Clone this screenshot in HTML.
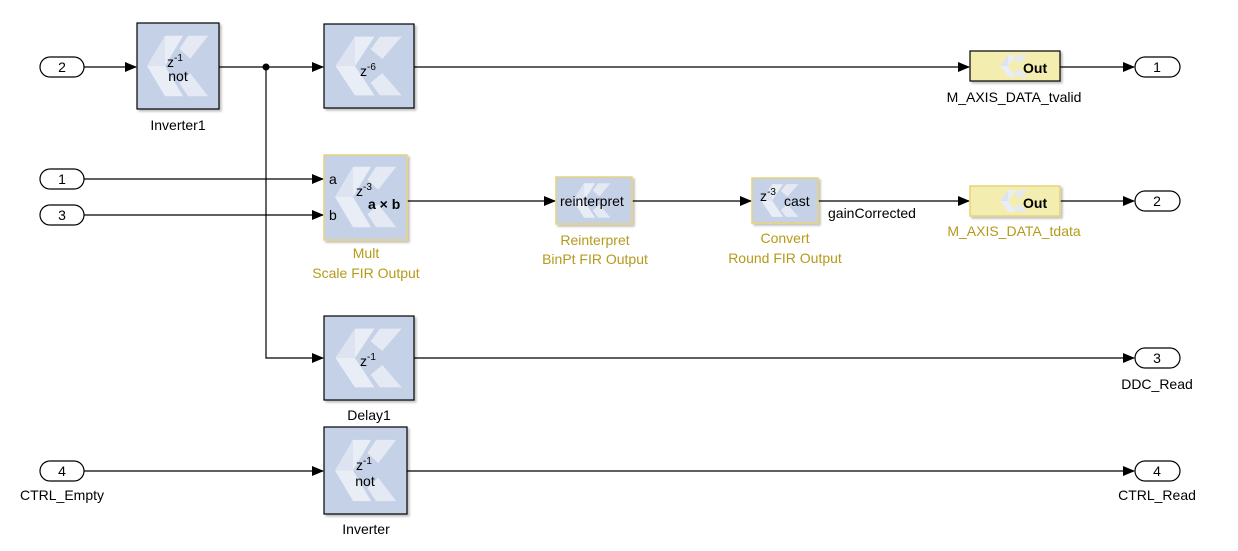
<!DOCTYPE html>
<html><head><meta charset="utf-8"><style>
html,body{margin:0;padding:0;background:#fff}
svg{display:block}
text{font-family:"Liberation Sans",sans-serif;font-size:14px}
</style></head><body>
<svg width="1238" height="551" viewBox="0 0 1238 551" xmlns="http://www.w3.org/2000/svg">
<defs>
<marker id="a" markerWidth="12" markerHeight="10" refX="11" refY="5" orient="auto" markerUnits="userSpaceOnUse"><path d="M0,0 L12,5 L0,10 Z" fill="#000"/></marker>
<symbol id="logo" viewBox="0 0 100 100" preserveAspectRatio="none">
<polygon points="32,8 57,8 32,50 57,92 32,92 7,50" fill="#e9edf6"/>
<polygon points="7,50 32,8 32,50" fill="#dde3f0"/>
<polygon points="64,8 92,8 67,40 52,26" fill="#e4e9f3"/>
<polygon points="52,74 67,60 92,92 64,92" fill="#e4e9f3"/>
</symbol>
<filter id="sh" x="-10%" y="-10%" width="130%" height="130%"><feDropShadow dx="2" dy="2" stdDeviation="1" flood-color="#000" flood-opacity="0.25"/></filter>
</defs>
<g fill="none" stroke="#000" stroke-width="1.2">
<path d="M84,67 H136" marker-end="url(#a)"/>
<path d="M219,67 H323" marker-end="url(#a)"/>
<path d="M266,67 V358 H323" marker-end="url(#a)"/>
<path d="M414,67 H969" marker-end="url(#a)"/>
<path d="M1060,67 H1134" marker-end="url(#a)"/>
<path d="M84,179 H323" marker-end="url(#a)"/>
<path d="M84,215 H323" marker-end="url(#a)"/>
<path d="M407,201 H555" marker-end="url(#a)"/>
<path d="M632,201 H751" marker-end="url(#a)"/>
<path d="M818,201 H969" marker-end="url(#a)"/>
<path d="M1060,201 H1134" marker-end="url(#a)"/>
<path d="M414,358 H1134" marker-end="url(#a)"/>
<path d="M84,471 H323" marker-end="url(#a)"/>
<path d="M407,471 H1134" marker-end="url(#a)"/>
</g>
<circle cx="266" cy="67" r="3.5" fill="#000"/>
<g fill="#fff" stroke="#000" stroke-width="1.2">
<rect x="40" y="57" width="44" height="20" rx="10"/>
<rect x="40" y="169" width="44" height="20" rx="10"/>
<rect x="40" y="205" width="44" height="20" rx="10"/>
<rect x="40" y="461" width="44" height="20" rx="10"/>
<rect x="1135" y="57" width="45" height="20" rx="10"/>
<rect x="1135" y="191" width="45" height="20" rx="10"/>
<rect x="1135" y="348" width="45" height="20" rx="10"/>
<rect x="1135" y="461" width="45" height="20" rx="10"/>
</g>
<g text-anchor="middle">
<text x="62" y="72">2</text><text x="62" y="184">1</text><text x="62" y="220">3</text><text x="62" y="476">4</text>
<text x="1157" y="72">1</text><text x="1157" y="206">2</text><text x="1157" y="363">3</text><text x="1157" y="476">4</text>
<text x="62" y="500">CTRL_Empty</text>
<text x="1157" y="389">DDC_Read</text>
<text x="1157" y="500">CTRL_Read</text>
</g>
<g filter="url(#sh)">
<rect x="137" y="23" width="82" height="86" fill="#c5d1e7" stroke="#000" stroke-width="1.2"/>
<rect x="324" y="24" width="90" height="84" fill="#c5d1e7" stroke="#000" stroke-width="1.2"/>
<rect x="324" y="155" width="83" height="85" fill="#c5d1e7" stroke="#e6d27a" stroke-width="1.5"/>
<rect x="556" y="177" width="76" height="47" fill="#c5d1e7" stroke="#e6d27a" stroke-width="1.5"/>
<rect x="752" y="178" width="66" height="45" fill="#c5d1e7" stroke="#e6d27a" stroke-width="1.5"/>
<rect x="970" y="51" width="90" height="30" fill="#f3eeb0" stroke="#000" stroke-width="1.2"/>
<rect x="970" y="186" width="90" height="30" fill="#f3eeb0" stroke="#e6d27a" stroke-width="1.5"/>
<rect x="324" y="316" width="90" height="84" fill="#c5d1e7" stroke="#000" stroke-width="1.2"/>
<rect x="324" y="427" width="83" height="87" fill="#c5d1e7" stroke="#000" stroke-width="1.2"/>
</g>
<use href="#logo" x="142" y="30" width="72" height="72"/>
<use href="#logo" x="330" y="31" width="78" height="70"/>
<use href="#logo" x="330" y="161" width="72" height="72"/>
<use href="#logo" x="570" y="180" width="44" height="41"/>
<use href="#logo" x="758" y="181" width="44" height="39"/>
<use href="#logo" x="998" y="53" width="32" height="26"/>
<use href="#logo" x="998" y="188" width="32" height="26"/>
<use href="#logo" x="330" y="323" width="78" height="70"/>
<use href="#logo" x="330" y="434" width="72" height="73"/>
<g text-anchor="middle">
<text x="175" y="67">z<tspan dy="-6" font-size="10">-1</tspan></text>
<text x="178" y="81">not</text>
<text x="368" y="76">z<tspan dy="-6" font-size="10">-6</tspan></text>
<text x="368" y="366">z<tspan dy="-6" font-size="10">-1</tspan></text>
<text x="364" y="470">z<tspan dy="-6" font-size="10">-1</tspan></text>
<text x="365" y="486">not</text>
<text x="178" y="130">Inverter1</text>
<text x="369" y="420">Delay1</text>
<text x="366" y="534">Inverter</text>
<text x="1014" y="102">M_AXIS_DATA_tvalid</text>
</g>
<text x="329" y="184">a</text><text x="329" y="220">b</text>
<text x="356" y="196">z<tspan dy="-6" font-size="10">-3</tspan></text>
<text x="368" y="209" font-weight="bold">a × b</text>
<text x="560" y="206">reinterpret</text>
<text x="760" y="201">z<tspan dy="-6" font-size="10">-3</tspan></text>
<text x="784" y="206">cast</text>
<text x="828" y="218" font-size="13">gainCorrected</text>
<text x="1023" y="73" font-weight="bold" font-size="15">Out</text>
<text x="1023" y="208" font-weight="bold" font-size="15">Out</text>
<g text-anchor="middle" fill="#b59a1c">
<text x="366" y="258">Mult</text>
<text x="366" y="278">Scale FIR Output</text>
<text x="595" y="245">Reinterpret</text>
<text x="595" y="264">BinPt FIR Output</text>
<text x="785" y="243">Convert</text>
<text x="785" y="263">Round FIR Output</text>
<text x="1014" y="236">M_AXIS_DATA_tdata</text>
</g>
</svg>
</body></html>
